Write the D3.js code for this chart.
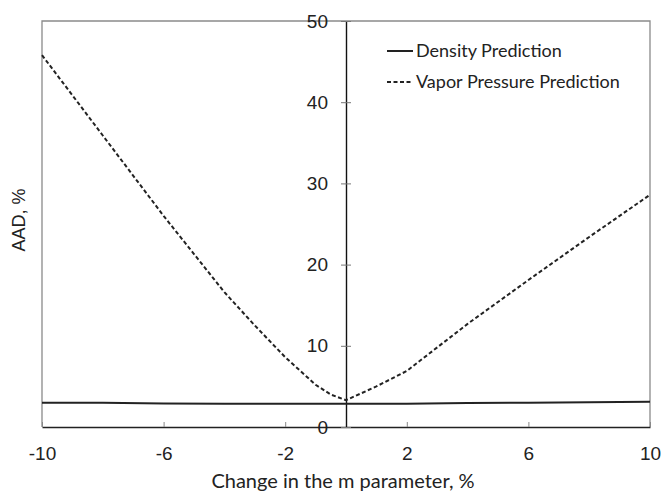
<!DOCTYPE html>
<html><head><meta charset="utf-8">
<script src="https://cdn.jsdelivr.net/npm/d3@7"></script>
<style>body{margin:0;background:#fff}</style>
</head><body>
<svg id="c" width="661" height="493"></svg>
<script>
const xTicks = [-10, -6, -2, 2, 6, 10];
const yTicks = [0, 10, 20, 30, 40, 50];
const densityX = [-10, -8, -6, -4, -2, 0, 2, 4, 6, 8, 10];
const densityY = [3.0, 3.0, 2.9, 2.85, 2.85, 2.85, 2.85, 2.95, 3.0, 3.05, 3.1];
const vaporX = [-10, -8, -6, -4, -3, -2, -1, -0.5, 0, 1, 2, 4, 6, 8, 10];
const vaporY = [45.8, 35.9, 26.0, 16.6, 12.5, 8.6, 5.2, 4.0, 3.3, 5.0, 6.9, 12.7, 18.1, 23.4, 28.6];
const seriesNames = ["Density Prediction", "Vapor Pressure Prediction"];

const svg = d3.select("#c");
const L = 42, R = 650, T = 21, B = 427;
const x = d3.scaleLinear().domain([-10, 10]).range([L, R]);
const y = d3.scaleLinear().domain([0, 50]).range([B, T]);

// frame
svg.append("path").attr("d", `M${L},${B}V${T}H${R}V${B}`)
  .attr("fill", "none").attr("stroke", "#8a8a8a").attr("stroke-width", 1.3);

// bottom axis
const xa = svg.append("g").attr("transform", `translate(0,${B})`)
  .call(d3.axisBottom(x).tickValues(xTicks).tickSizeInner(-5).tickSizeOuter(0).tickPadding(20).tickFormat(d => String(d)));
xa.select(".domain").attr("stroke", "#222").attr("stroke-width", 1.5);
xa.selectAll(".tick line").attr("stroke", "#888");
xa.selectAll("text").attr("font-family", "Arial, 'Liberation Sans'").attr("font-size", 19).attr("fill", "#222");

// central y axis at x=0
const ya = svg.append("g").attr("transform", `translate(${x(0)},0)`)
  .call(d3.axisLeft(y).tickValues(yTicks).tickSizeInner(5).tickSizeOuter(0).tickPadding(13).tickFormat(d => String(d)));
ya.select(".domain").attr("stroke", "#111").attr("stroke-width", 1.4);
ya.selectAll(".tick line").attr("x2", 5).attr("x1", -5).attr("stroke", "#777");
ya.selectAll("text").attr("font-family", "Arial, 'Liberation Sans'").attr("font-size", 19).attr("fill", "#222");

// lines
const lineGen = d3.line().x(d => x(d[0])).y(d => y(d[1]));
svg.append("path").datum(densityX.map((v, i) => [v, densityY[i]]))
  .attr("d", lineGen).attr("fill", "none").attr("stroke", "#222").attr("stroke-width", 2);
svg.append("path").datum(vaporX.map((v, i) => [v, vaporY[i]]))
  .attr("d", lineGen).attr("fill", "none").attr("stroke", "#222").attr("stroke-width", 2)
  .attr("stroke-dasharray", "4,2.5");

// legend
const lg = svg.append("g");
[0, 1].forEach(i => {
  const yy = 51 + i * 31;
  lg.append("line").attr("x1", 387).attr("x2", 413).attr("y1", yy).attr("y2", yy)
    .attr("stroke", "#222").attr("stroke-width", 2)
    .attr("stroke-dasharray", i ? "4,2.5" : null);
  lg.append("text").attr("x", 416).attr("y", yy + 6).text(seriesNames[i])
    .attr("font-family", "Lato, 'Open Sans', sans-serif").attr("font-size", 18).attr("fill", "#222");
});

// axis titles
svg.append("text").attr("x", 343).attr("y", 488).attr("text-anchor", "middle")
  .text("Change in the m parameter, %")
  .attr("font-family", "Lato, 'Open Sans', sans-serif").attr("font-size", 20).attr("fill", "#222");
svg.append("text").attr("transform", "translate(25,220) rotate(-90)").attr("text-anchor", "middle")
  .text("AAD, %").attr("font-family", "Arial, 'Liberation Sans'").attr("font-size", 18).attr("fill", "#222");
</script>
</body></html>
